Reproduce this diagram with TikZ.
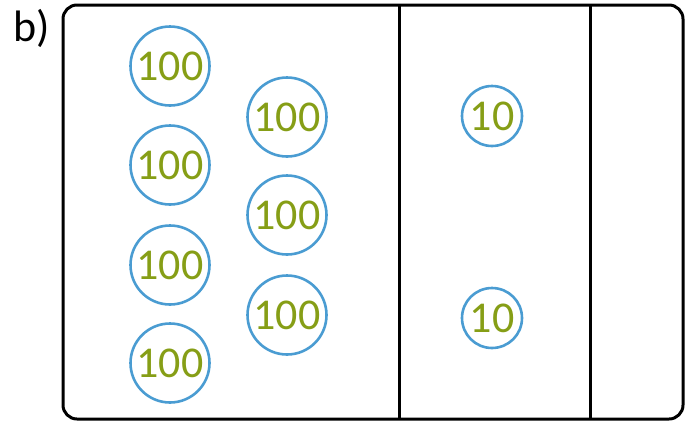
\documentclass[tikz,border=0pt]{standalone}
\usepackage{fontspec}
\setmainfont{Carlito}
\definecolor{cblue}{RGB}{74,156,210}
\definecolor{cgreen}{RGB}{134,158,22}
\begin{document}
\begin{tikzpicture}[x=1pt,y=-1pt,
  big/.style={draw=cblue,line width=2.6pt,circle,minimum size=79pt,inner sep=0pt,text=cgreen,font=\fontsize{44}{44}\selectfont},
  small/.style={draw=cblue,line width=2.6pt,circle,minimum size=60pt,inner sep=0pt,text=cgreen,font=\fontsize{44}{44}\selectfont},
  frame/.style={line width=3pt,draw=black}]
\useasboundingbox (0,0) rectangle (690,421);
\draw[frame,rounded corners=14pt] (63,5) rectangle (683,419);
\coordinate (l1t) at (399,5); \coordinate (l1b) at (399,419);
\coordinate (l2t) at (590,5); \coordinate (l2b) at (590,419);
\draw[frame] (l1t) -- (l1b);
\draw[frame] (l2t) -- (l2b);
\node[font=\fontsize{44}{44}\selectfont] (lbl) at (32,28) {b)};
\node[big] (a1) at (170,66) {100};
\node[big] (a2) at (170,165) {100};
\node[big] (a3) at (170,265) {100};
\node[big] (a4) at (170,363) {100};
\node[big] (b1) at (287,117) {100};
\node[big] (b2) at (287,215) {100};
\node[big] (b3) at (287,315) {100};
\node[small] (c1) at (492,116) {10};
\node[small] (c2) at (492,318) {10};
\end{tikzpicture}
\end{document}
